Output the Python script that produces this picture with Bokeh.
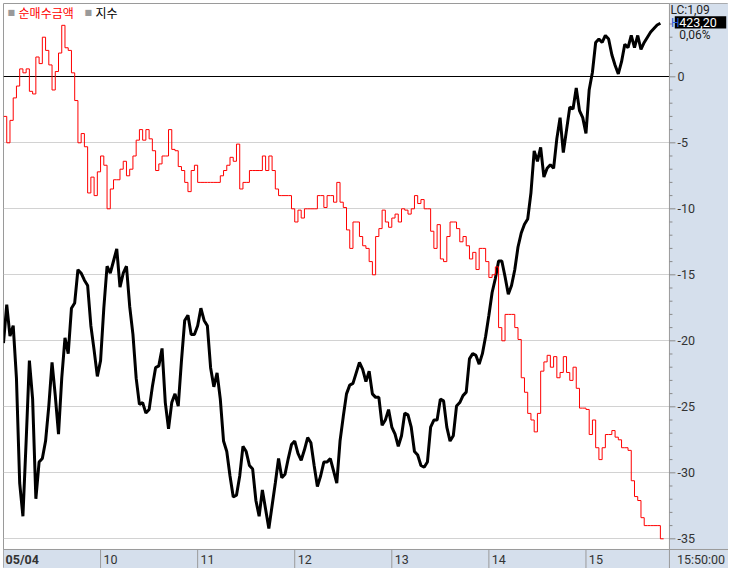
import numpy as np
from bokeh.plotting import figure
from bokeh.models import Range1d, FixedTicker, Grid, Label
from bokeh.core.properties import value
from bokeh.embed import file_html
from bokeh.resources import INLINE

# ---------------- data ----------------
STEP_MIN = 2  # minutes between samples, from 09:00
# 지수 (index)
index_values = [
    421.37, 421.59, 421.41, 421.47, 421.17, 420.57, 420.38, 420.81, 421.27, 421.05,
    420.48, 420.69, 420.71, 420.81, 421.01, 421.26, 421.07, 420.85, 421.17, 421.40,
    421.31, 421.57, 421.60, 421.79, 421.77, 421.73, 421.70, 421.47, 421.33, 421.18,
    421.27, 421.57, 421.81, 421.77, 421.84, 421.91, 421.69, 421.77, 421.81, 421.58,
    421.42, 421.17, 421.02, 421.03, 420.97, 420.99, 421.12, 421.23, 421.24, 421.34,
    421.03,
    420.88, 421.03, 421.08, 421.01, 421.27, 421.50, 421.53, 421.42, 421.42, 421.47,
    421.57, 421.50, 421.47, 421.23, 421.12, 421.20, 421.05, 420.81, 420.75, 420.61,
    420.49, 420.50, 420.61, 420.78, 420.75, 420.67, 420.65, 420.47, 420.38, 420.53,
    420.42, 420.31, 420.44, 420.57, 420.71, 420.60, 420.62, 420.71, 420.79, 420.81,
    420.74, 420.70, 420.76, 420.83, 420.80, 420.67, 420.55, 420.61, 420.69, 420.69,
    420.71,
    420.64, 420.57, 420.81, 420.95, 421.08, 421.13, 421.14, 421.20, 421.26, 421.22,
    421.15, 421.21, 421.08, 421.06, 421.06, 420.90, 420.93, 420.99, 420.89, 420.85,
    420.78, 420.84, 420.97, 420.96, 420.89, 420.75, 420.73, 420.67, 420.66, 420.69,
    420.89, 420.93, 420.93, 421.05, 421.04, 420.89, 420.81, 420.84, 421.01, 421.03,
    421.07, 421.09, 421.28, 421.31, 421.30, 421.25, 421.31, 421.41, 421.53, 421.66,
    421.74,
    421.84, 421.84, 421.75, 421.65, 421.70, 421.79, 421.92, 422.00, 422.05, 422.08,
    422.23, 422.47, 422.41, 422.49, 422.32, 422.37, 422.39, 422.37, 422.54, 422.66,
    422.46, 422.59, 422.72, 422.71, 422.83, 422.70, 422.66, 422.57, 422.82, 422.92,
    423.09, 423.11, 423.09, 423.13, 423.11, 423.02, 422.96, 422.91, 422.98, 423.08,
    423.06, 423.13, 423.06, 423.13, 423.05, 423.09, 423.12, 423.15, 423.17, 423.19,
    423.20,
]
# 순매수금액 (net buying amount)
net_buy_values = [
    -3.0, -5.0, -3.3, -1.6, -0.7, 0.6, 0.3, 0.6, -1.1, -1.3,
    1.5, 1.0, 3.0, 2.0, 0.9, -1.0, 0.4, 1.8, 3.9, 2.2,
    2.0, 0.3, -1.8, -5.0, -4.3, -5.3, -8.8, -7.6, -9.0, -7.2,
    -6.0, -6.7, -10.0, -8.5, -7.8, -7.8, -7.0, -6.4, -7.5, -7.0,
    -6.0, -4.8, -4.0, -4.8, -4.0, -4.7, -5.6, -7.1, -6.6, -6.0,
    -6.0,
    -4.0, -5.5, -5.6, -6.8, -7.1, -8.0, -8.7, -7.1, -6.7, -8.0,
    -8.0, -8.0, -8.0, -8.0, -8.0, -8.0, -7.5, -7.1, -6.7, -6.1,
    -6.4, -5.1, -8.5, -8.0, -8.0, -7.1, -7.1, -7.1, -7.1, -6.0,
    -7.1, -6.0, -7.1, -8.5, -9.0, -9.0, -9.0, -9.0, -10.0, -11.0,
    -10.1, -10.7, -10.0, -10.0, -10.0, -10.0, -9.0, -9.0, -9.9, -9.0,
    -9.0,
    -9.5, -8.0, -9.5, -9.9, -11.6, -13.0, -11.0, -11.0, -12.1, -12.8,
    -13.0, -14.0, -15.0, -12.1, -11.5, -10.1, -11.0, -11.4, -10.7, -10.4,
    -11.0, -10.0, -10.1, -10.4, -10.0, -9.0, -9.6, -9.3, -10.0, -10.0,
    -11.7, -13.0, -11.2, -13.8, -14.0, -12.1, -11.0, -11.0, -11.5, -12.5,
    -12.1, -12.8, -13.8, -13.3, -14.6, -13.0, -13.0, -14.0, -15.2, -15.0,
    -14.4,
    -19.0, -20.0, -18.0, -18.0, -18.0, -19.0, -19.9, -22.8, -23.9, -25.5,
    -26.0, -26.9, -25.5, -22.3, -21.6, -21.1, -22.0, -21.2, -22.8, -22.4,
    -21.2, -22.4, -23.0, -22.0, -23.6, -25.1, -25.1, -25.2, -27.1, -26.0,
    -28.1, -29.0, -28.1, -27.1, -27.1, -26.8, -27.3, -27.5, -28.1, -28.1,
    -28.3, -30.6, -31.8, -32.1, -33.4, -34.0, -34.0, -34.0, -34.0, -34.0,
    -35.0, -35.0,
]
hour_ticks = [60, 120, 180, 240, 300, 360]
hour_labels = ["10", "11", "12", "13", "14", "15"]
date_label = "05/04"
end_label = "15:50:00"
right_ticks = [0, -5, -10, -15, -20, -25, -30, -35]
minor_ticks = [v for v in range(-35, 6) if v % 5 != 0]
last_index = "423,20"
lc_text = "LC:1,09"
change_text = "0,06%"
series_names = ["순매수금액", "지수"]

index_times = np.arange(len(index_values)) * STEP_MIN
net_times = np.arange(len(net_buy_values)) * STEP_MIN

# ---------------- layout constants (minutes / value units) ----------------
PX_X = 1.618            # px per minute
PX_Y = 13.2             # px per value unit
X_MAX = 448.1           # right edge of the whole chart
X_SEP = 411.6           # plot area right edge (15:51)
Y_TOP, Y_BOT = 5.553, -37.25
Y_SEP = -35.81          # plot area bottom edge
BLUE = "#d5dfec"
GRAY = "#9a9a9a"
TXT = "#333333"
FONT = "Roboto"
KFONT = "Noto Sans CJK KR"

p = figure(width=725, height=565, x_range=Range1d(0, X_MAX), y_range=Range1d(Y_BOT, Y_TOP),
           output_backend="svg", toolbar_location=None,
           x_axis_location=None, y_axis_location=None, min_border=0,
           background_fill_color="white", border_fill_color="white",
           outline_line_color=GRAY, outline_line_width=1,
           margin=(3, 0, 0, 3))
p.extra_y_ranges = {"idx": Range1d(420.081, 423.313)}

# grid
p.grid.visible = False
p.add_layout(Grid(dimension=1, ticker=FixedTicker(ticks=[-5, -10, -15, -20, -25, -30, -35]),
                  grid_line_color="#d2d2d2"))
p.add_layout(Grid(dimension=1, ticker=FixedTicker(ticks=[0]), grid_line_color="black"))

# side panels (right value scale, bottom time scale)
p.quad(left=[X_SEP, 0], right=[X_MAX, X_SEP], top=[Y_TOP, Y_SEP], bottom=[Y_BOT, Y_BOT],
       fill_color=BLUE, line_color=None)
p.segment(x0=[X_SEP, 0], x1=[X_SEP, X_MAX], y0=[Y_BOT, Y_SEP], y1=[Y_TOP, Y_SEP],
          line_color=GRAY, line_width=1)

# right scale ticks and labels
n_r = len(right_ticks)
n_m = len(minor_ticks)
p.segment(x0=[X_SEP] * n_r, x1=[X_SEP + 6 / PX_X] * n_r,
          y0=right_ticks, y1=right_ticks, line_color="#8a8a8a")
p.segment(x0=[X_SEP] * n_m, x1=[X_SEP + 3 / PX_X] * n_m,
          y0=minor_ticks, y1=minor_ticks, line_color="#8a8a8a")
p.text(x=[X_SEP + 8 / PX_X] * n_r, y=right_ticks, text=[str(v) for v in right_ticks],
       text_font=value(FONT), text_font_size="12.5px", text_color=TXT,
       text_baseline="middle", text_align="left")

# bottom time scale: separators and labels
n_h = len(hour_ticks)
p.segment(x0=hour_ticks, x1=hour_ticks, y0=[Y_SEP] * n_h, y1=[Y_BOT] * n_h,
          line_color=GRAY)
LAB_Y = -36.57
p.text(x=[t + 1.8 for t in hour_ticks], y=[LAB_Y] * n_h, text=hour_labels,
       text_font=value(FONT), text_font_size="12.5px", text_color=TXT,
       text_baseline="middle", text_align="left")
p.add_layout(Label(x=1.3, y=LAB_Y, text=date_label, text_font=FONT, text_font_size="12.5px",
                   text_font_style="bold", text_color=TXT, text_baseline="middle"))
p.add_layout(Label(x=416.2, y=LAB_Y, text=end_label, text_font=FONT, text_font_size="12.5px",
                   text_color=TXT, text_baseline="middle"))

# series
p.line(index_times, index_values, y_range_name="idx", line_color="black", line_width=3)
p.step(net_times, net_buy_values, mode="after", line_color="#ff0000", line_width=1)

# top-right info
p.add_layout(Label(x=412.2, y=5.08, text=lc_text, text_font=FONT, text_font_size="12px",
                   text_color="#222222", text_baseline="middle"))
p.add_layout(Label(x=412.5, y=4.11, text="H", text_font=FONT, text_font_size="12px",
                   text_color="#2a5bd7", text_baseline="middle"))
p.quad(left=[414.9], right=[446.7], top=[4.59], bottom=[3.66], fill_color="black",
       line_color=None)
p.add_layout(Label(x=417.6, y=4.11, text=last_index, text_font=FONT, text_font_size="12.5px",
                   text_color="white", text_baseline="middle"))
p.add_layout(Label(x=417.6, y=3.18, text=change_text, text_font=FONT, text_font_size="12px",
                   text_color="#222222", text_baseline="middle"))

# legend
LEG_Y = 4.9
for x_sq, x_tx, name, col in [(2.5, 9.3, series_names[0], "#ff0000"),
                              (50.1, 56.9, series_names[1], "#000000")]:
    p.add_layout(Label(x=x_sq, y=LEG_Y, text="■", text_font="DejaVu Sans",
                       text_font_size="8px", text_color="#9a9a9a", text_baseline="middle"))
    p.add_layout(Label(x=x_tx, y=LEG_Y, text=name, text_font=KFONT, text_font_size="12px",
                       text_color=col, text_baseline="middle"))

open("out.html", "w").write(file_html(p, INLINE))
